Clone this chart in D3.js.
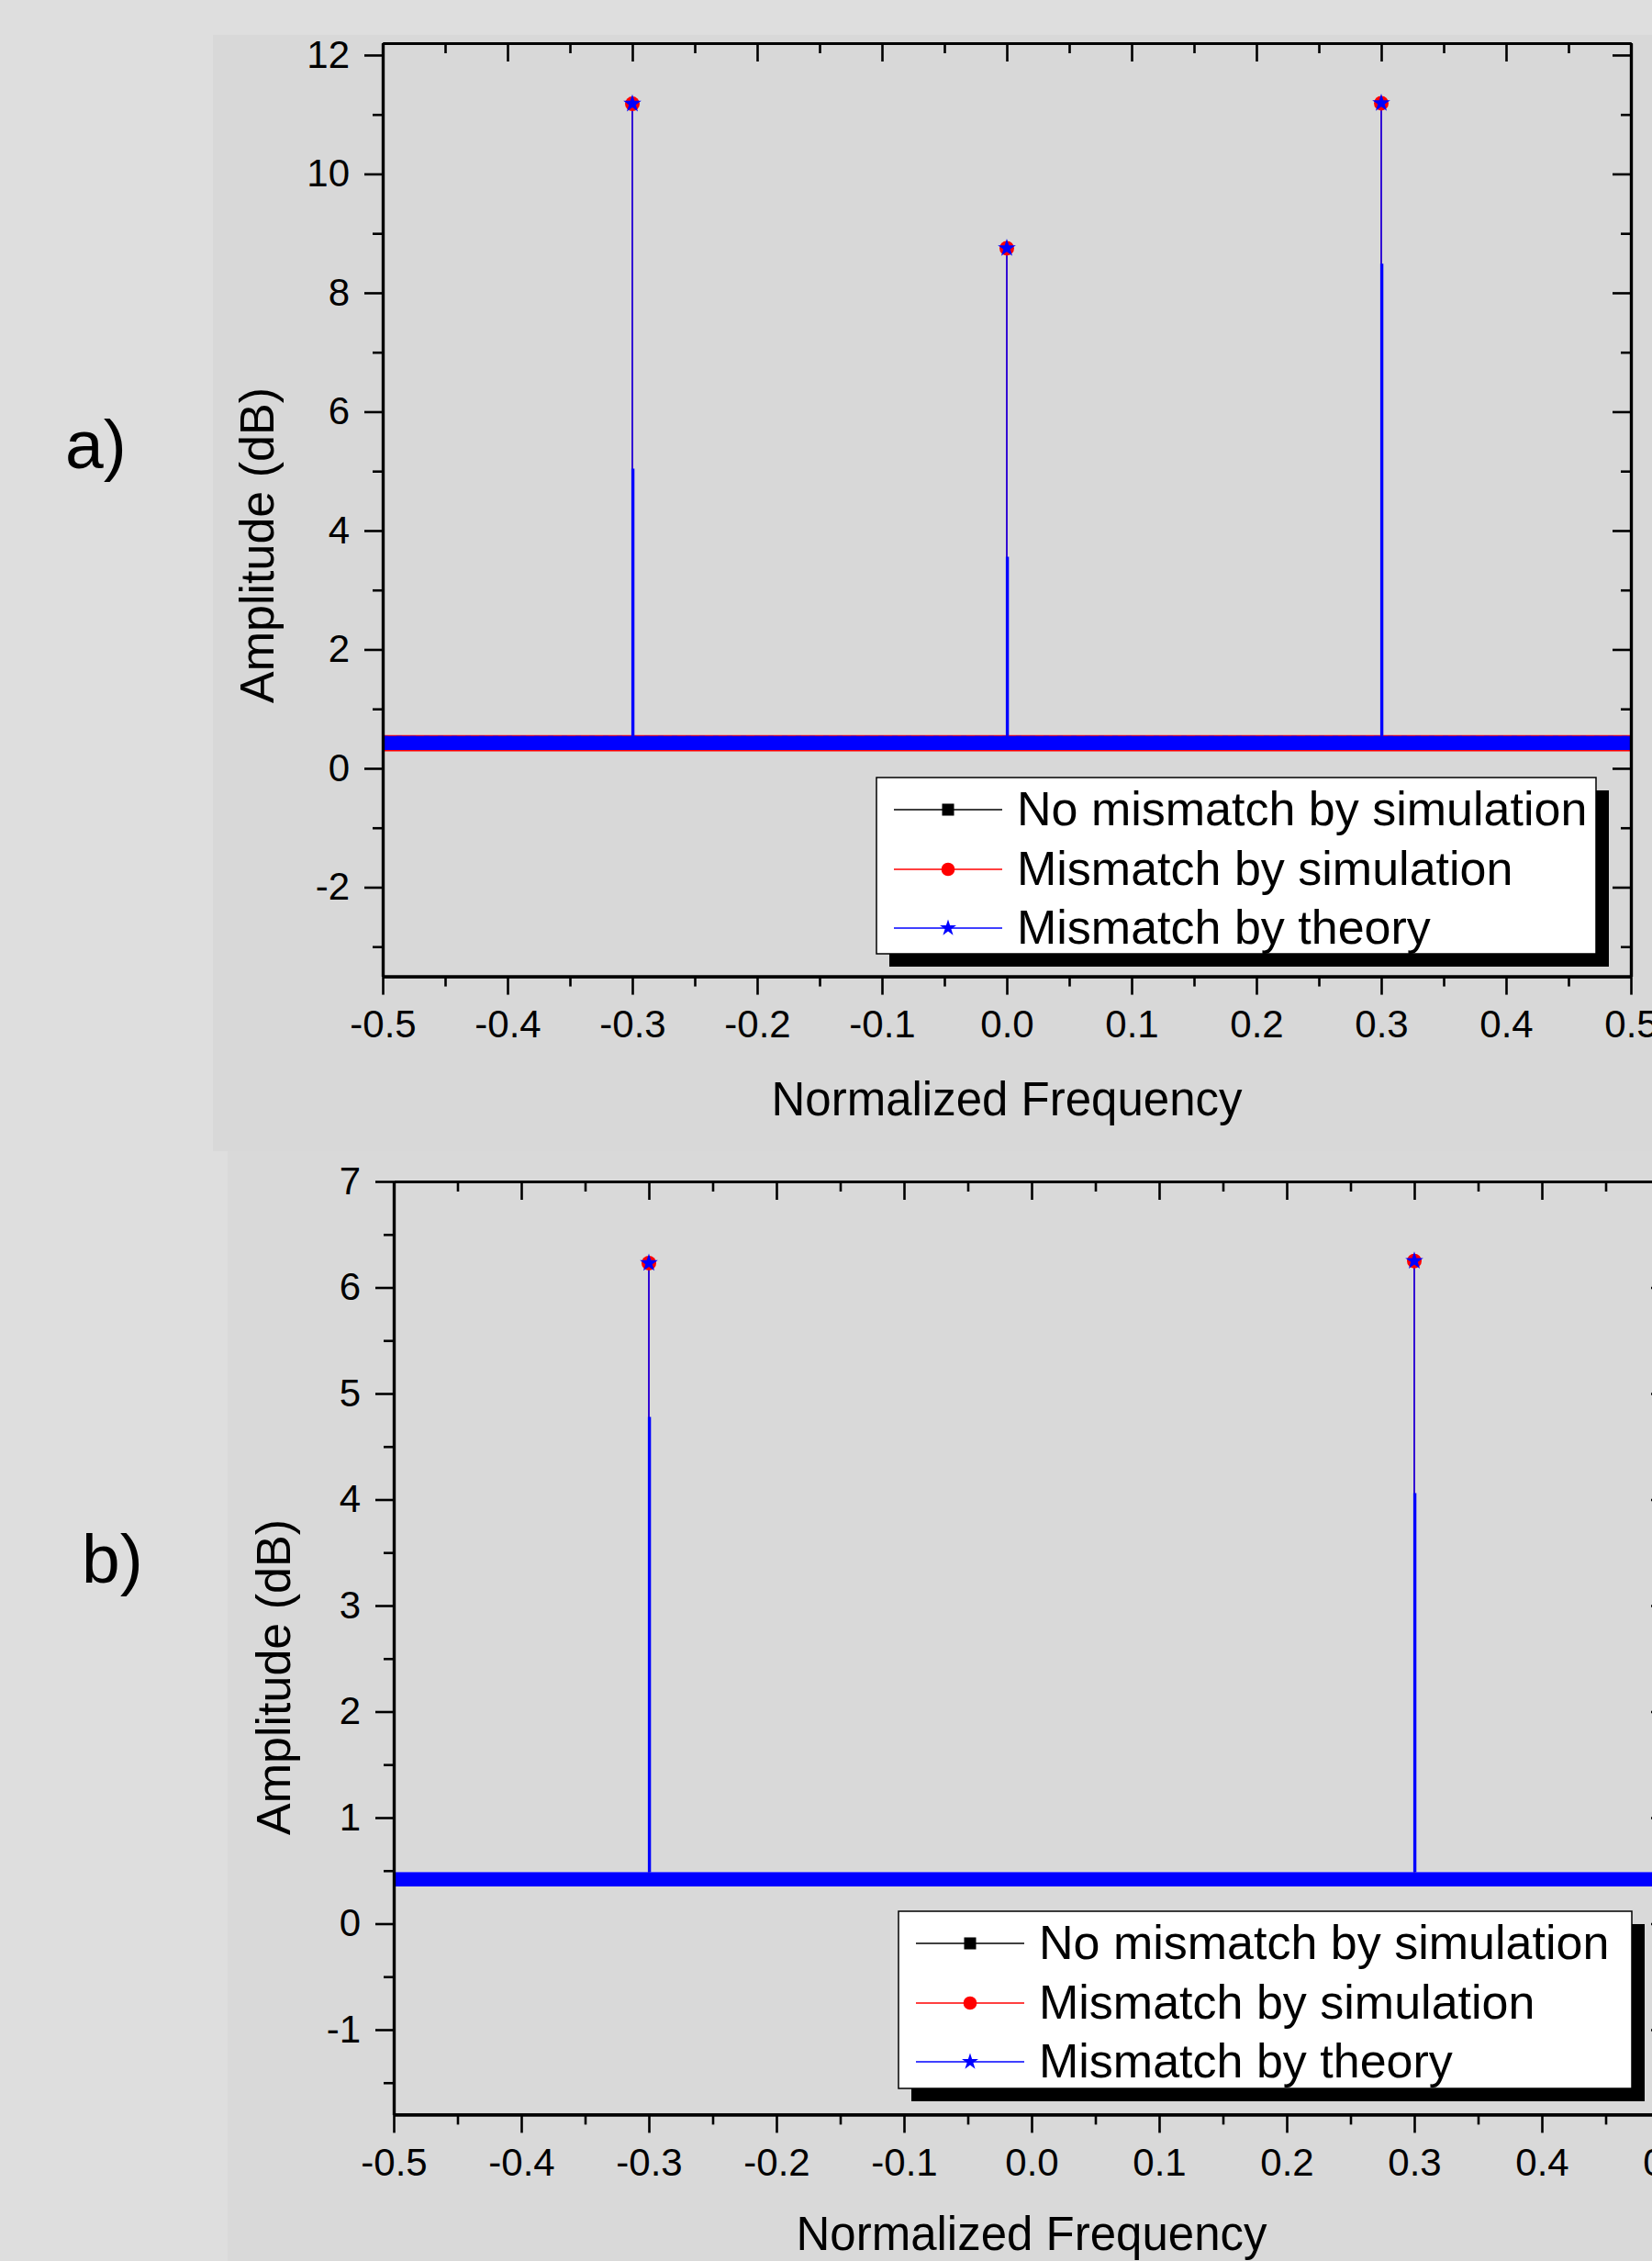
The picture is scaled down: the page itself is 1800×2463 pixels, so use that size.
<!DOCTYPE html>
<html>
<head>
<meta charset="utf-8">
<script src="https://cdn.jsdelivr.net/npm/d3@7"></script>
<style>
  body { margin: 0; background: #dedede; }
  svg { display: block; font-family: "Liberation Sans", Arial, sans-serif; }
</style>
</head>
<body>
<div class="chart"></div>
<script>
// ---------------- data ----------------
var seriesNames = ["No mismatch by simulation", "Mismatch by simulation", "Mismatch by theory"];

var xTicks = [-0.5, -0.4, -0.3, -0.2, -0.1, 0.0, 0.1, 0.2, 0.3, 0.4, 0.5];
var xTickLabels = ["-0.5", "-0.4", "-0.3", "-0.2", "-0.1", "0.0", "0.1", "0.2", "0.3", "0.4", "0.5"];
var xMinorTicks = [-0.45, -0.35, -0.25, -0.15, -0.05, 0.05, 0.15, 0.25, 0.35, 0.45];

// panel a)
var yTicksA = [-2, 0, 2, 4, 6, 8, 10, 12];
var yTickLabelsA = ["-2", "0", "2", "4", "6", "8", "10", "12"];
var yMinorA = [-3, -1, 1, 3, 5, 7, 9, 11];
var peakFreqA = [-0.3, 0.0, 0.3];
var peakSimA = [11.18, 8.75, 11.19];        // red circles
var peakTheoryA = [11.18, 8.75, 11.19];     // blue stars
var shoulderTheoryA = [5.04, 3.56, 8.49];   // lower neighbouring bin
var floorNoA = [0.31, 0.54];                // noise floor band [low, high]
var floorSimA = [0.285, 0.56];
var floorTheoryA = [0.31, 0.545];

// panel b)
var yTicksB = [-1, 0, 1, 2, 3, 4, 5, 6, 7];
var yTickLabelsB = ["-1", "0", "1", "2", "3", "4", "5", "6", "7"];
var yMinorB = [-1.5, -0.5, 0.5, 1.5, 2.5, 3.5, 4.5, 5.5, 6.5];
var peakFreqB = [-0.3, 0.3];
var peakSimB = [6.23, 6.25];
var peakTheoryB = [6.23, 6.25];
var shoulderTheoryB = [4.78, 4.06];
var floorNoB = [0.36, 0.48];
var floorSimB = [0.36, 0.48];
var floorTheoryB = [0.35, 0.485];

// ---------------- layout ----------------
var svgWidth = 1800;
var svgHeight = 2463;

var colors = ["#000000", "#ff0000", "#0000ff"];

var panels = [
    {
        label: "a)", labelX: 71, labelY: 510,
        bg: { x: 232, y: 38, w: 1568, h: 1216, fill: "#d8d8d8" },
        left: 417, right: 1777, top: 47, bottom: 1063.6,
        yDomain: [-3.5, 12.2],
        yTicks: yTicksA, yTickLabels: yTickLabelsA, yMinor: yMinorA,
        peakFreq: peakFreqA, peakSim: peakSimA, peakTheory: peakTheoryA, shoulder: shoulderTheoryA,
        floors: [floorNoA, floorSimA, floorTheoryA],
        redEdges: true,
        yLabelX: 298, yLabelY: 594, xLabelY: 1215,
        legend: { x: 955, y: 847, w: 784, h: 192 }
    },
    {
        label: "b)", labelX: 89, labelY: 1724,
        bg: { x: 248, y: 1254, w: 1552, h: 1209, fill: "#d9d9d9" },
        left: 429, right: 1819, top: 1287, bottom: 2303.4,
        yDomain: [-1.8, 7],
        yTicks: yTicksB, yTickLabels: yTickLabelsB, yMinor: yMinorB,
        peakFreq: peakFreqB, peakSim: peakSimB, peakTheory: peakTheoryB, shoulder: shoulderTheoryB,
        floors: [floorNoB, floorSimB, floorTheoryB],
        redEdges: false,
        yLabelX: 316, yLabelY: 1827, xLabelY: 2451,
        legend: { x: 979, y: 2082, w: 799, h: 193 }
    }
];

var svg = d3.select(".chart")
    .append("svg")
    .attr("width", svgWidth)
    .attr("height", svgHeight);

svg.append("rect")
    .attr("width", svgWidth)
    .attr("height", svgHeight)
    .attr("fill", "#dedede");

function styleAxis(axisG, fontSize) {
    axisG.attr("font-family", null).attr("font-size", null);
    axisG.select(".domain").attr("stroke", "#000").attr("stroke-width", 3.2);
    axisG.selectAll(".tick line").attr("stroke", "#000").attr("stroke-width", 2.6);
    axisG.selectAll(".tick text")
        .attr("fill", "#000")
        .attr("font-size", fontSize)
        .attr("font-family", "'Liberation Sans', Arial, sans-serif");
}

function drawPanel(p) {
    var g = svg.append("g");

    g.append("rect")
        .attr("x", p.bg.x).attr("y", p.bg.y)
        .attr("width", p.bg.w).attr("height", p.bg.h)
        .attr("fill", p.bg.fill);

    var xScale = d3.scaleLinear().domain([-0.5, 0.5]).range([p.left, p.right]);
    var yScale = d3.scaleLinear().domain(p.yDomain).range([p.bottom, p.top]);

    // noise floor bands (dense symbols along the floor)
    p.floors.forEach(function(fl, i) {
        var area = d3.area()
            .x(d => xScale(d))
            .y0(yScale(fl[0]))
            .y1(yScale(fl[1]));
        g.append("path")
            .datum([-0.5, 0.5])
            .attr("d", area)
            .attr("fill", colors[i]);
    });

    // red edges showing around the blue band in a)
    if (p.redEdges) {
        var th = p.floors[2];
        g.append("path")
            .datum([-0.5, 0.5])
            .attr("d", d3.line().x(d => xScale(d)).y(yScale(th[1]) + 1.2))
            .attr("stroke", colors[2])
            .attr("stroke-width", 2.4)
            .attr("stroke-dasharray", "6,9");
    } else {
        g.append("path")
            .datum([-0.5, 0.5])
            .attr("d", d3.line().x(d => xScale(d)).y(yScale(p.floors[2][1])))
            .attr("stroke", "#5a5aff")
            .attr("stroke-width", 1.2);
    }

    var floorTop = p.floors[2][1];

    // red stems (simulation) under blue stems (theory)
    g.selectAll(".stem-sim")
        .data(p.peakFreq)
        .enter()
        .append("line")
        .attr("x1", d => xScale(d)).attr("x2", d => xScale(d))
        .attr("y1", yScale(floorTop))
        .attr("y2", (d, i) => yScale(p.peakSim[i]))
        .attr("stroke", colors[1])
        .attr("stroke-width", 1.6);

    g.selectAll(".stem-theory")
        .data(p.peakFreq)
        .enter()
        .append("line")
        .attr("x1", d => xScale(d)).attr("x2", d => xScale(d))
        .attr("y1", yScale(floorTop))
        .attr("y2", (d, i) => yScale(p.peakTheory[i]))
        .attr("stroke", colors[2])
        .attr("stroke-width", 1.6);

    g.selectAll(".stem-shoulder")
        .data(p.peakFreq)
        .enter()
        .append("line")
        .attr("x1", d => xScale(d) + 0.6).attr("x2", d => xScale(d) + 0.6)
        .attr("y1", yScale(floorTop))
        .attr("y2", (d, i) => yScale(p.shoulder[i]))
        .attr("stroke", colors[2])
        .attr("stroke-width", 3.4);

    // peak symbols
    g.selectAll(".mk-sim")
        .data(p.peakFreq)
        .enter()
        .append("circle")
        .attr("cx", d => xScale(d))
        .attr("cy", (d, i) => yScale(p.peakSim[i]))
        .attr("r", 8)
        .attr("fill", colors[1]);

    g.selectAll(".mk-theory")
        .data(p.peakFreq)
        .enter()
        .append("path")
        .attr("transform", (d, i) => `translate(${xScale(d)}, ${yScale(p.peakTheory[i])})`)
        .attr("d", d3.symbol().type(d3.symbolStar).size(120))
        .attr("fill", colors[2]);

    // axes
    var bottomAxis = g.append("g")
        .attr("transform", `translate(0, ${p.bottom})`)
        .call(d3.axisBottom(xScale).tickValues(xTicks)
            .tickFormat((d, i) => xTickLabels[i])
            .tickSize(20).tickSizeOuter(0).tickPadding(17));
    styleAxis(bottomAxis, 42);

    var bottomMinor = g.append("g")
        .attr("transform", `translate(0, ${p.bottom})`)
        .call(d3.axisBottom(xScale).tickValues(xMinorTicks).tickFormat("").tickSize(11).tickSizeOuter(0));
    styleAxis(bottomMinor, 42);

    var topAxis = g.append("g")
        .attr("transform", `translate(0, ${p.top})`)
        .call(d3.axisBottom(xScale).tickValues(xTicks).tickFormat("").tickSize(20).tickSizeOuter(0));
    styleAxis(topAxis, 42);

    var topMinor = g.append("g")
        .attr("transform", `translate(0, ${p.top})`)
        .call(d3.axisBottom(xScale).tickValues(xMinorTicks).tickFormat("").tickSize(11).tickSizeOuter(0));
    styleAxis(topMinor, 42);

    var leftAxis = g.append("g")
        .attr("transform", `translate(${p.left}, 0)`)
        .call(d3.axisLeft(yScale).tickValues(p.yTicks)
            .tickFormat((d, i) => p.yTickLabels[i])
            .tickSize(20).tickSizeOuter(0).tickPadding(16));
    styleAxis(leftAxis, 42);

    var leftMinor = g.append("g")
        .attr("transform", `translate(${p.left}, 0)`)
        .call(d3.axisLeft(yScale).tickValues(p.yMinor).tickFormat("").tickSize(11).tickSizeOuter(0));
    styleAxis(leftMinor, 42);

    var rightAxis = g.append("g")
        .attr("transform", `translate(${p.right}, 0)`)
        .call(d3.axisLeft(yScale).tickValues(p.yTicks).tickFormat("").tickSize(20).tickSizeOuter(0));
    styleAxis(rightAxis, 42);

    var rightMinor = g.append("g")
        .attr("transform", `translate(${p.right}, 0)`)
        .call(d3.axisLeft(yScale).tickValues(p.yMinor).tickFormat("").tickSize(11).tickSizeOuter(0));
    styleAxis(rightMinor, 42);

    // axis titles
    g.append("text")
        .attr("x", (p.left + p.right) / 2)
        .attr("y", p.xLabelY)
        .attr("text-anchor", "middle")
        .attr("font-size", 51)
        .text("Normalized Frequency");

    g.append("text")
        .attr("transform", `translate(${p.yLabelX}, ${p.yLabelY}) rotate(-90)`)
        .attr("text-anchor", "middle")
        .attr("font-size", 52)
        .text("Amplitude (dB)");

    g.append("text")
        .attr("x", p.labelX)
        .attr("y", p.labelY)
        .attr("font-size", 75)
        .text(p.label);

    // legend
    var lg = p.legend;
    g.append("rect")
        .attr("x", lg.x + 14).attr("y", lg.y + 14)
        .attr("width", lg.w).attr("height", lg.h)
        .attr("fill", "#000");
    g.append("rect")
        .attr("x", lg.x).attr("y", lg.y)
        .attr("width", lg.w).attr("height", lg.h)
        .attr("fill", "#fff")
        .attr("stroke", "#000")
        .attr("stroke-width", 1.5);

    var rowOffsets = [35, 100, 164];
    seriesNames.forEach(function(name, i) {
        var ry = lg.y + rowOffsets[i];
        g.append("line")
            .attr("x1", lg.x + 19).attr("x2", lg.x + 137)
            .attr("y1", ry).attr("y2", ry)
            .attr("stroke", colors[i])
            .attr("stroke-width", 1.6);
        var symType = [d3.symbolSquare, d3.symbolCircle, d3.symbolStar][i];
        var symSize = [170, 170, 100][i];
        g.append("path")
            .attr("transform", `translate(${lg.x + 78}, ${ry})`)
            .attr("d", d3.symbol().type(symType).size(symSize))
            .attr("fill", colors[i]);
        g.append("text")
            .attr("x", lg.x + 153)
            .attr("y", ry + 17)
            .attr("font-size", 52)
            .text(name);
    });
}

panels.forEach(drawPanel);
</script>
</body>
</html>
